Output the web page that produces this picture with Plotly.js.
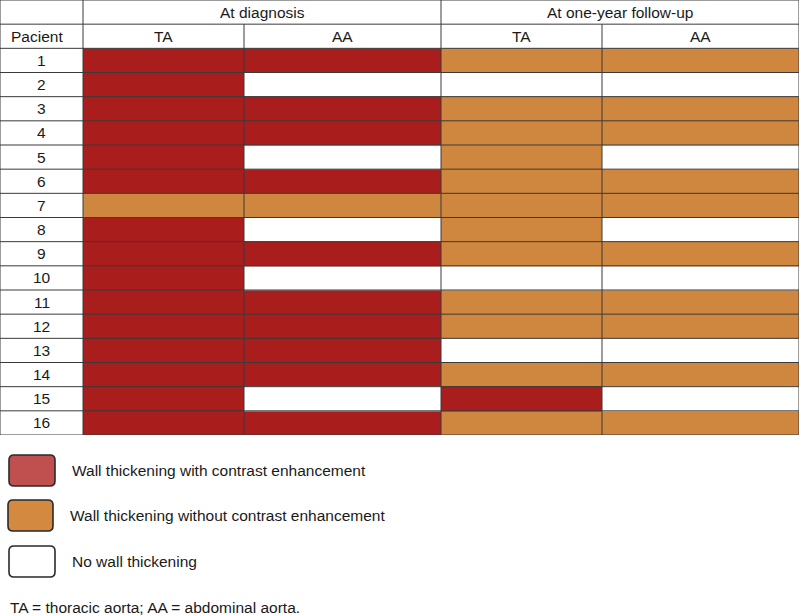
<!DOCTYPE html>
<html><head><meta charset="utf-8">
<script src="https://cdn.plot.ly/plotly-3.0.1.min.js"></script>
<style>html,body{margin:0;padding:0;background:#fff}#chart{width:800px;height:615px}</style>
</head><body><div id="chart"></div>
<script>
// ---- data ----
const patients = ['1','2','3','4','5','6','7','8','9','10','11','12','13','14','15','16'];
const groupLabels = ['At diagnosis', 'At one-year follow-up'];
const columnLabels = ['TA', 'AA', 'TA', 'AA'];
const patientHeader = 'Pacient';
// 2 = wall thickening with contrast enhancement, 1 = without contrast enhancement, 0 = none
const diagnosisTA = [2,2,2,2,2,2,1,2,2,2,2,2,2,2,2,2];
const diagnosisAA = [2,0,2,2,0,2,1,0,2,0,2,2,2,2,0,2];
const followupTA  = [1,0,1,1,1,1,1,1,1,0,1,1,0,1,2,1];
const followupAA  = [1,0,1,1,0,1,1,0,1,0,1,1,0,1,0,1];
const legendLabels = ['Wall thickening with contrast enhancement', 'Wall thickening without contrast enhancement', 'No wall thickening'];
const footnote = 'TA = thoracic aorta; AA = abdominal aorta.';

// ---- layout helpers ----
const RED = '#A91D1D', ORANGE = '#CF863E';
const COL_EDGES = [0, 161, 358, 519, 716];   // column boundaries (axis units)
const X_LEFT = -83;
const LINE = '#3a3a3a';
const FONT = {family: 'Liberation Sans, Arial, sans-serif', size: 15.5, color: '#1a1a1a'};
const M = {l:0, r:1, t:0, b:180};

const yIdx = patients.map((p, i) => i + 1);
const z = patients.map((p, i) => [diagnosisTA[i], diagnosisAA[i], followupTA[i], followupAA[i]]);

const trace = {
  type: 'heatmap', z: z, x: COL_EDGES, y: yIdx,
  zmin: 0, zmax: 2, showscale: false, hoverinfo: 'skip',
  colorscale: [[0,'#ffffff'],[0.25,'#ffffff'],[0.25,ORANGE],[0.75,ORANGE],[0.75,RED],[1,RED]]
};

const shapes = [];
const annotations = [];
const hline = (y, x0, x1) => shapes.push({type:'line', xref:'x', yref:'y', x0:x0, x1:x1, y0:y, y1:y, line:{color:LINE, width:1}, layer:'above'});
const vline = (x, y0, y1) => shapes.push({type:'line', xref:'x', yref:'y', x0:x, x1:x, y0:y0, y1:y1, line:{color:LINE, width:1}, layer:'above'});

for (let k = -1.5; k <= patients.length + 0.5; k += 1) hline(k, X_LEFT, COL_EDGES[COL_EDGES.length-1]);
vline(X_LEFT, -1.5, patients.length + 0.5);
vline(COL_EDGES[0], -1.5, patients.length + 0.5);
vline(COL_EDGES[2], -1.5, patients.length + 0.5);
vline(COL_EDGES[4], -1.5, patients.length + 0.5);
vline(COL_EDGES[1], -0.5, patients.length + 0.5);
vline(COL_EDGES[3], -0.5, patients.length + 0.5);

groupLabels.forEach((g, i) => annotations.push({xref:'x', yref:'y', x:(COL_EDGES[2*i] + COL_EDGES[2*i+2]) / 2, y:-1, text:g, showarrow:false, font:FONT}));
columnLabels.forEach((c, i) => annotations.push({xref:'x', yref:'y', x:(COL_EDGES[i] + COL_EDGES[i+1]) / 2, y:0, text:c, showarrow:false, font:FONT}));
annotations.push({xref:'x', yref:'y', x:X_LEFT/2, y:0, xshift:-5, text:patientHeader, showarrow:false, font:FONT});
patients.forEach((p, i) => annotations.push({xref:'x', yref:'y', x:X_LEFT/2, y:yIdx[i], text:p, showarrow:false, font:FONT}));

// legend (page pixel coords converted to paper coords of the plot area)
const W = 800, H = 615;
const PW = W - M.l - M.r, PH = H - M.t - M.b;
const px = x => (x - M.l) / PW, py = y => 1 - (y - M.t) / PH;
function roundRect(x0, y0, x1, y1, r) {
  return `M${px(x0+r)},${py(y0)} L${px(x1-r)},${py(y0)} Q${px(x1)},${py(y0)} ${px(x1)},${py(y0+r)} ` +
         `L${px(x1)},${py(y1-r)} Q${px(x1)},${py(y1)} ${px(x1-r)},${py(y1)} L${px(x0+r)},${py(y1)} ` +
         `Q${px(x0)},${py(y1)} ${px(x0)},${py(y1-r)} L${px(x0)},${py(y0+r)} Q${px(x0)},${py(y0)} ${px(x0+r)},${py(y0)} Z`;
}
const legendFills = ['#C0504F', '#D38A40', '#ffffff'];
const legendBoxes = [[9,455,55,486],[8,500,53,531],[9,546,55,577]];
const legendTextX = [70, 68, 70];
legendLabels.forEach((lab, i) => {
  const b = legendBoxes[i];
  shapes.push({type:'path', xref:'paper', yref:'paper', path: roundRect(b[0], b[1], b[2], b[3], 5),
               fillcolor: legendFills[i], line:{color:'#2a2a2a', width:1.6}});
  annotations.push({xref:'paper', yref:'paper', x:px(legendTextX[i]), y:py((b[1]+b[3])/2), xanchor:'left', yanchor:'middle',
                    text: lab, showarrow:false, font:FONT});
});
annotations.push({xref:'paper', yref:'paper', x:px(8), y:py(607), xanchor:'left', yanchor:'middle', text:footnote, showarrow:false, font:FONT});

const layout = {
  width: 800, height: 615,
  margin: {l:M.l, r:M.r, t:M.t, b:M.b, pad:0},
  paper_bgcolor: '#ffffff', plot_bgcolor: '#ffffff',
  xaxis: {range:[X_LEFT, COL_EDGES[COL_EDGES.length-1]], showgrid:false, zeroline:false, showticklabels:false, ticks:'', fixedrange:true},
  yaxis: {range:[patients.length + 0.5, -1.5], showgrid:false, zeroline:false, showticklabels:false, ticks:'', fixedrange:true},
  shapes: shapes, annotations: annotations, showlegend: false
};

Plotly.newPlot('chart', [trace], layout, {displayModeBar:false, staticPlot:true});
</script></body></html>
